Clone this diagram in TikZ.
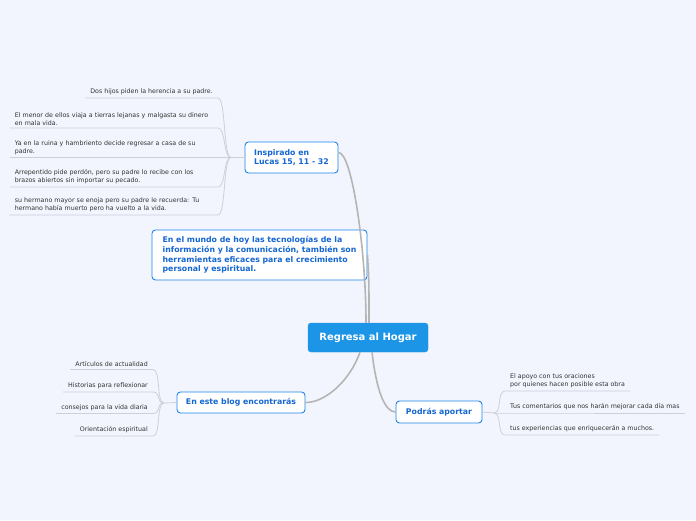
\documentclass[tikz,border=0pt]{standalone}
\usepackage{fontspec}
\setmainfont{DejaVu Sans}
\usepackage{xcolor}
\usetikzlibrary{positioning, calc}
\definecolor{bgblue}{HTML}{F3F5FE}
\definecolor{rootblue}{HTML}{1D95E6}
\definecolor{topicblue}{HTML}{1A84E6}
\definecolor{topictext}{HTML}{1466D2}
\definecolor{linkgray}{HTML}{B5B5B5}
\definecolor{subgray}{HTML}{CDD0D8}
\definecolor{subtext}{HTML}{333333}

\begin{document}
\begin{tikzpicture}[x=1pt, y=-1pt,
    root/.style={fill=rootblue, draw=rootblue, rounded corners=3pt, text=white,
      font=\bfseries\fontsize{10}{12}\selectfont, minimum width=120pt, minimum height=29pt, inner sep=0pt},
    topic/.style={fill=white, draw=topicblue, line width=0.9pt, rounded corners=3.5pt, text=topictext,
      font=\bfseries\fontsize{7.8}{9.6}\selectfont, align=left, inner xsep=8pt, inner ysep=0pt},
    sub/.style={font=\fontsize{6.3}{8}\selectfont, text=subtext, align=left, inner xsep=5pt, inner ysep=2.5pt},
    twig/.style={draw=subgray, line width=0.8pt},
    link/.style={draw=linkgray, line width=1.6pt}]

    % Background
    \fill[bgblue] (0,0) rectangle (696,520);

    % Main topics
    \node[root] (root) at (368,337.5) {Regresa al Hogar};
    \node[topic, minimum width=93pt, minimum height=31pt] (ins) at (291.5,157.5) {Inspirado en\\Lucas 15, 11 - 32};
    \node[topic, minimum width=215pt, minimum height=50pt] (txt) at (259.5,255) {En el mundo de hoy las tecnologías de la\\información y la comunicación, también son\\herramientas eficaces para el crecimiento\\personal y espiritual.};
    \node[topic, minimum width=128pt, minimum height=21pt] (blog) at (241,402.5) {En este blog encontrarás};
    \node[topic, minimum width=86pt, minimum height=22pt] (pod) at (439,412) {Podrás aportar};

    % Links from the central topic
    \draw[link] ([xshift=-2pt]root.north) .. controls (366,250) and (352,152) .. ([yshift=5pt]ins.east);
    \draw[link] ([xshift=1pt]root.north) .. controls (369,280) .. (txt.east);
    \draw[link] ([xshift=-8pt]root.south) .. controls (348,385) and (322,403) .. (blog.east);
    \draw[link] ([xshift=4pt]root.south) .. controls (377,395) and (386,412) .. (pod.west);

    % Subtopics of "Inspirado en"
    \coordinate (insfork) at (231,157.5);
    \node[sub, anchor=south east] (ins1) at (218,98) {Dos hijos piden la herencia a su padre.};
    \node[sub, anchor=south east, text width=198pt] (ins2) at (218,128) {El menor de ellos viaja a tierras lejanas y malgasta su dinero\\en mala vida.};
    \node[sub, anchor=south east, text width=198pt] (ins3) at (218,157.5) {Ya en la ruina y hambriento decide regresar a casa de su\\padre.};
    \node[sub, anchor=south east, text width=198pt] (ins4) at (218,187) {Arrepentido pide perdón, pero su padre lo recibe con los\\brazos abiertos sin importar su pecado.};
    \node[sub, anchor=south east, text width=198pt] (ins5) at (218,215) {su hermano mayor se enoja pero su padre le recuerda: Tu\\hermano había muerto pero ha vuelto a la vida.};
    \draw[twig] (ins.west) -- (insfork);
    \foreach \s in {ins1,ins2,ins3,ins4,ins5}
        \draw[twig] (insfork) .. controls +(-8,0) and +(8,0) .. (\s.south east) -- (\s.south west);

    % Subtopics of "En este blog"
    \coordinate (blogfork) at (164,403);
    \node[sub, anchor=south east] (blog1) at (153,369.5) {Artículos de actualidad};
    \node[sub, anchor=south east] (blog2) at (153,392) {Historias para reflexionar};
    \node[sub, anchor=south east] (blog3) at (153,413.5) {consejos para la vida diaria};
    \node[sub, anchor=south east] (blog4) at (153,436) {Orientación espiritual};
    \draw[twig] (blog.west) -- (blogfork);
    \foreach \s in {blog1,blog2,blog3,blog4}
        \draw[twig] (blogfork) .. controls +(-8,0) and +(8,0) .. (\s.south east) -- (\s.south west);

    % Subtopics of "Podrás aportar"
    \coordinate (podfork) at (494,413);
    \node[sub, anchor=south west] (pod1) at (505,391) {El apoyo con tus oraciones\\por quienes hacen posible esta obra};
    \node[sub, anchor=south west] (pod2) at (505,413) {Tus comentarios que nos harán mejorar cada día mas};
    \node[sub, anchor=south west] (pod3) at (505,435) {tus experiencias que enriquecerán a muchos.};
    \draw[twig] (pod.east) -- (podfork);
    \foreach \s in {pod1,pod2,pod3}
        \draw[twig] (podfork) .. controls +(8,0) and +(-8,0) .. (\s.south west) -- (\s.south east);

\end{tikzpicture}
\end{document}
